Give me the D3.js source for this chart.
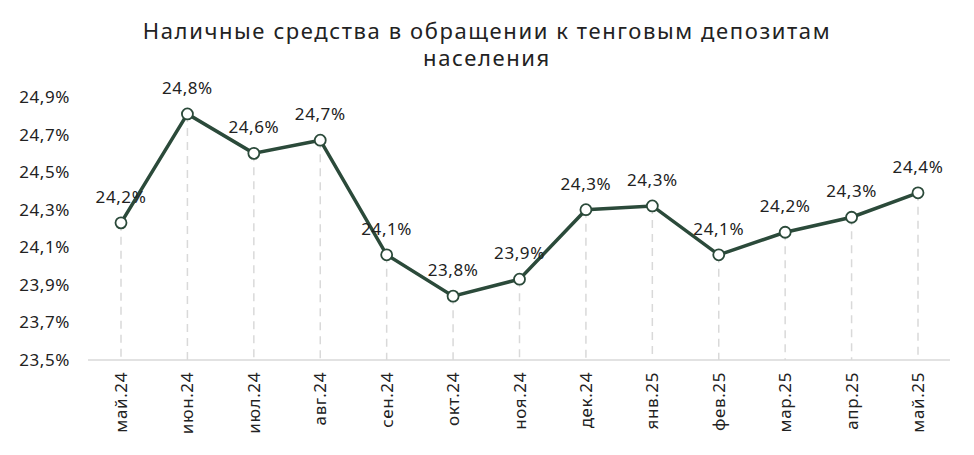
<!DOCTYPE html>
<html><head><meta charset="utf-8">
<script src="https://cdn.jsdelivr.net/npm/d3@7"></script>
<style>
body { margin: 0; background: #fff; }
text { font-family: "Noto Sans", sans-serif; fill: #222; }
</style></head>
<body><svg id="chart" width="974" height="455"></svg>
<script>
var months = ['май.24', 'июн.24', 'июл.24', 'авг.24', 'сен.24', 'окт.24', 'ноя.24', 'дек.24', 'янв.25', 'фев.25', 'мар.25', 'апр.25', 'май.25'];
var values = [24.23, 24.81, 24.60, 24.67, 24.06, 23.84, 23.93, 24.30, 24.32, 24.06, 24.18, 24.26, 24.39];
var yTicks = [23.5, 23.7, 23.9, 24.1, 24.3, 24.5, 24.7, 24.9];

var svg = d3.select('#chart');
var fmt = function(v) { return d3.format('.1f')(v).replace('.', ',') + '%'; };

var x = d3.scalePoint().domain(months).range([121, 918]);
var y = d3.scaleLinear().domain([23.5, 24.9]).range([360, 97]);

// title
svg.append('text').attr('x', 487).attr('y', 39).attr('text-anchor', 'middle')
  .style('font-size', '22px').style('letter-spacing', '1.6px').text('Наличные средства в обращении к тенговым депозитам');
svg.append('text').attr('x', 487).attr('y', 66).attr('text-anchor', 'middle')
  .style('font-size', '22px').style('letter-spacing', '1.6px').text('населения');

// y labels
svg.selectAll('.ylab').data(yTicks).enter().append('text')
  .attr('x', 70).attr('y', function(d) { return y(d) + 6; })
  .attr('text-anchor', 'end').style('font-size', '17px').style('letter-spacing', '0.6px').text(fmt);

// dashed drop lines
svg.selectAll('.drop').data(values).enter().append('line')
  .attr('x1', function(d, i) { return x(months[i]); })
  .attr('x2', function(d, i) { return x(months[i]); })
  .attr('y1', function(d) { return y(d); }).attr('y2', 360)
  .attr('stroke', '#d9d9d9').attr('stroke-width', 1.5).attr('stroke-dasharray', '8,6');

// x axis line
svg.append('line').attr('x1', 88).attr('x2', 950).attr('y1', 360).attr('y2', 360)
  .attr('stroke', '#d9d9d9').attr('stroke-width', 1.5);

// x labels
svg.selectAll('.xlab').data(months).enter().append('text')
  .attr('transform', function(d) { return 'translate(' + (x(d) + 6) + ',372) rotate(-90)'; })
  .attr('text-anchor', 'end').style('font-size', '17px').style('letter-spacing', '0.6px').text(function(d) { return d; });

// line
var line = d3.line().x(function(d, i) { return x(months[i]); }).y(function(d) { return y(d); });
svg.append('path').datum(values).attr('d', line)
  .attr('fill', 'none').attr('stroke', '#2b4a3a').attr('stroke-width', 3.5);

svg.selectAll('.pt').data(values).enter().append('circle')
  .attr('cx', function(d, i) { return x(months[i]); }).attr('cy', function(d) { return y(d); })
  .attr('r', 5.5).attr('fill', '#fff').attr('stroke', '#2b4a3a').attr('stroke-width', 1.8);

// value labels
svg.selectAll('.vlab').data(values).enter().append('text')
  .attr('x', function(d, i) { return x(months[i]); }).attr('y', function(d) { return y(d) - 20; })
  .attr('text-anchor', 'middle').style('font-size', '17px').style('letter-spacing', '0.6px').text(fmt);
</script></body></html>
